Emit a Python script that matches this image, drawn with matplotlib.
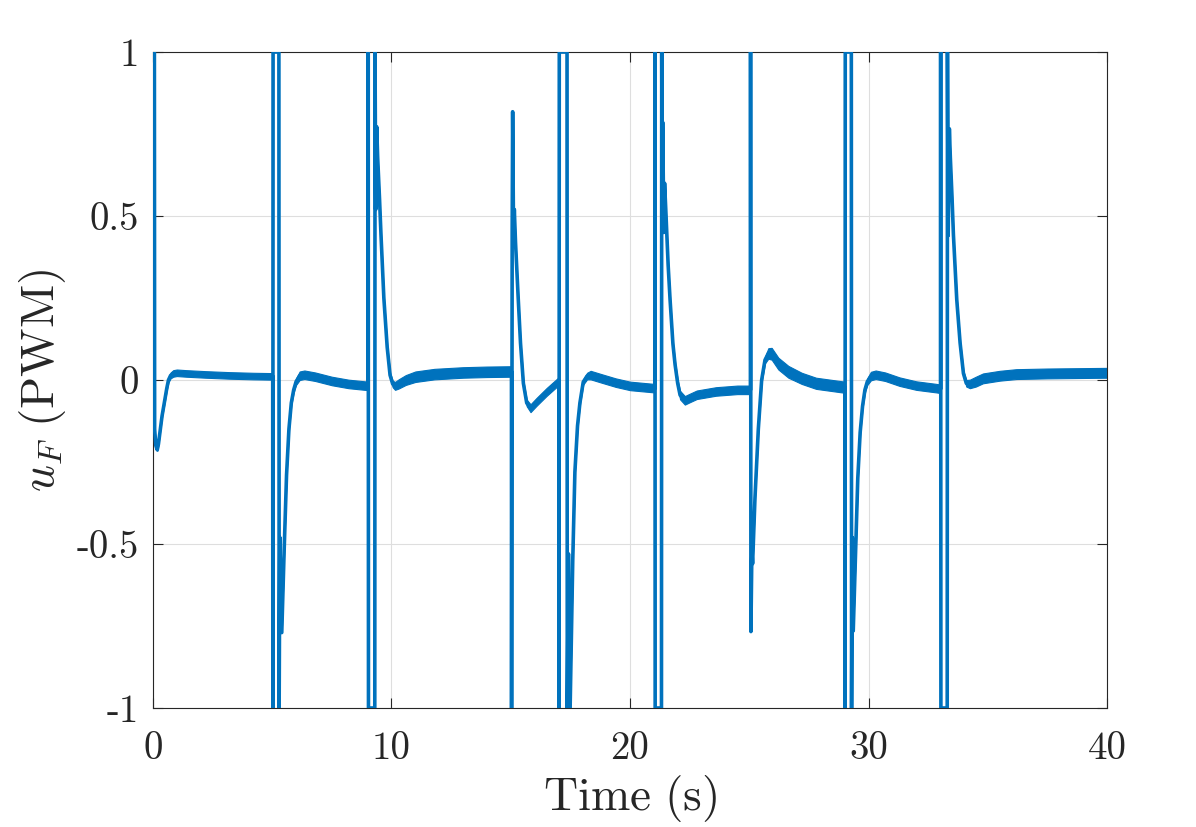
import matplotlib
matplotlib.use('Agg')
import matplotlib.pyplot as plt
import numpy as np

# ---- data ----
time_s = [
    # start
    0.06, 0.07, 0.12, 0.18, 0.23, 0.29, 0.38, 0.50, 0.58, 0.65, 0.74, 0.85, 1.00, 1.40, 2.20, 3.20, 4.20, 5.02,
    # ~5 s
    5.025, 5.035, 5.28, 5.29, 5.32, 5.40, 5.50, 5.60, 5.70, 5.80, 5.90, 6.00, 6.15, 6.35, 6.80, 7.50, 8.20, 9.02,
    # ~9 s
    9.025, 9.035, 9.30, 9.31, 9.34, 9.38, 9.42, 9.50, 9.56, 9.68, 9.82, 9.94, 10.05, 10.15, 10.30, 10.60, 11.00, 11.80, 13.00, 14.00, 15.03,
    # ~15 s
    15.035, 15.06, 15.08, 15.12, 15.15, 15.20, 15.31, 15.41, 15.53, 15.67, 15.83, 16.09, 16.51, 17.02,
    # ~17 s
    17.025, 17.035, 17.36, 17.37, 17.42, 17.49, 17.60, 17.69, 17.80, 17.90, 18.04, 18.20, 18.35, 18.80, 19.40, 20.00, 21.04,
    # ~21 s
    21.045, 21.055, 21.32, 21.33, 21.35, 21.37, 21.42, 21.45, 21.50, 21.60, 21.68, 21.80, 21.89, 22.00, 22.10, 22.30, 22.50, 22.80, 23.60, 24.50, 25.05,
    # ~25 s
    25.055, 25.07, 25.11, 25.14, 25.24, 25.38, 25.52, 25.66, 25.80, 25.94, 26.22, 26.64, 27.20, 27.80, 28.80, 29.01,
    # ~29 s
    29.015, 29.025, 29.28, 29.29, 29.32, 29.36, 29.45, 29.55, 29.65, 29.75, 29.85, 29.95, 30.10, 30.30, 30.70, 31.30, 32.00, 32.86, 33.02,
    # ~33 s
    33.025, 33.035, 33.30, 33.31, 33.34, 33.39, 33.43, 33.50, 33.56, 33.70, 33.84, 33.98, 34.10, 34.25, 34.50, 34.80, 35.50, 36.20, 37.50, 40.00,
]

u_F = [
    1.0, -0.15, -0.20, -0.213, -0.195, -0.16, -0.11, -0.06, -0.025, 0.0, 0.014, 0.02, 0.022, 0.02, 0.017, 0.014, 0.012, 0.011,
    -1.0, 1.0, 1.0, -1.0, -0.48, -0.77, -0.52, -0.29, -0.15, -0.07, -0.03, -0.005, 0.013, 0.016, 0.01, -0.003, -0.012, -0.018,
    1.0, -1.0, -1.0, 1.0, 0.52, 0.772, 0.68, 0.55, 0.443, 0.25, 0.10, 0.015, -0.012, -0.018, -0.012, 0.0, 0.01, 0.018, 0.023, 0.025, 0.026,
    -1.0, 0.45, 0.818, 0.42, 0.52, 0.42, 0.254, 0.112, -0.01, -0.07, -0.086, -0.066, -0.036, -0.003,
    -1.0, 1.0, 1.0, -1.0, -0.53, -1.0, -0.55, -0.28, -0.14, -0.07, -0.006, 0.012, 0.015, 0.005, -0.008, -0.018, -0.025,
    1.0, -1.0, -1.0, 1.0, 0.5, 0.786, 0.45, 0.6, 0.52, 0.35, 0.245, 0.11, 0.047, -0.01, -0.046, -0.062, -0.055, -0.045, -0.035, -0.03, -0.03,
    1.0, -0.767, -0.52, -0.56, -0.36, -0.15, 0.0, 0.061, 0.081, 0.08, 0.05, 0.025, 0.005, -0.01, -0.02, -0.022,
    -1.0, 1.0, 1.0, -1.0, -0.48, -0.765, -0.55, -0.30, -0.16, -0.08, -0.03, -0.005, 0.012, 0.016, 0.01, -0.005, -0.017, -0.025, -0.027,
    1.0, -1.0, -1.0, 1.0, 0.44, 0.766, 0.68, 0.56, 0.443, 0.245, 0.113, 0.02, -0.01, -0.012, -0.005, 0.005, 0.013, 0.018, 0.02, 0.022,
]

# half-amplitude of the high-frequency chatter visible around the trace
chatter = [
    0, 0, 0.003, 0.003, 0.003, 0.003, 0.004, 0.005, 0.006, 0.007, 0.009, 0.010, 0.010, 0.010, 0.010, 0.010, 0.010, 0.010,
    0, 0, 0, 0, 0, 0, 0.003, 0.004, 0.005, 0.006, 0.008, 0.01, 0.013, 0.013, 0.013, 0.013, 0.013, 0.013,
    0, 0, 0, 0, 0, 0, 0.003, 0.003, 0.004, 0.005, 0.006, 0.008, 0.01, 0.012, 0.014, 0.015, 0.016, 0.016, 0.016, 0.016, 0.016,
    0, 0, 0, 0, 0, 0.004, 0.005, 0.006, 0.008, 0.01, 0.012, 0.012, 0.012, 0.012,
    0, 0, 0, 0, 0, 0, 0.003, 0.004, 0.005, 0.006, 0.008, 0.01, 0.013, 0.013, 0.013, 0.013, 0.013,
    0, 0, 0, 0, 0, 0, 0, 0, 0.003, 0.004, 0.005, 0.006, 0.008, 0.01, 0.013, 0.013, 0.013, 0.013, 0.013, 0.013, 0.013,
    0, 0, 0, 0, 0.004, 0.005, 0.007, 0.01, 0.016, 0.018, 0.018, 0.018, 0.017, 0.017, 0.017, 0.017,
    0, 0, 0, 0, 0, 0, 0.003, 0.004, 0.005, 0.006, 0.008, 0.01, 0.013, 0.013, 0.013, 0.013, 0.013, 0.013, 0.013,
    0, 0, 0, 0, 0, 0, 0.003, 0.003, 0.004, 0.005, 0.006, 0.008, 0.01, 0.013, 0.015, 0.015, 0.015, 0.015, 0.015, 0.015,
]

x_ticks = [0, 10, 20, 30, 40]
x_tick_labels = ['0', '10', '20', '30', '40']
y_ticks = [-1, -0.5, 0, 0.5, 1]
y_tick_labels = ['-1', '-0.5', '0', '0.5', '1']

# ---- style ----
plt.rcParams['font.family'] = ['cmr10', 'DejaVu Serif']
plt.rcParams['mathtext.fontset'] = 'cm'
plt.rcParams['axes.unicode_minus'] = False
plt.rcParams['axes.formatter.use_mathtext'] = False

blue = '#0072BD'
dark = '#262626'

fig = plt.figure(figsize=(11.96, 8.27), dpi=100)
ax = fig.add_axes([0.1279, 0.1439, 0.7977, 0.7932])

t = np.array(time_s)
u = np.array(u_F)
a = np.array(chatter)

ax.fill_between(t, u - a, u + a, color=blue, lw=0.8, zorder=2)
ax.plot(t, u, color=blue, lw=2.6, zorder=3, solid_joinstyle='round')

ax.set_xlim(0, 40)
ax.set_ylim(-1, 1)
ax.set_xticks(x_ticks)
ax.set_xticklabels(x_tick_labels)
ax.set_yticks(y_ticks)
ax.set_yticklabels(y_tick_labels)

ax.grid(True, color='#dedede', lw=0.8)
ax.set_axisbelow(True)
ax.tick_params(axis='both', direction='in', length=7, width=0.8, colors=dark,
               top=True, right=True, labelsize=28)
ax.tick_params(axis='x', pad=17)
ax.tick_params(axis='y', pad=10)
for sp in ax.spines.values():
    sp.set_color(dark)
    sp.set_linewidth(0.8)

ax.set_xlabel(r'$\mathrm{Time\ (s)}$', fontsize=34, color=dark, labelpad=4)
ax.set_ylabel(r'$u_F\ \mathrm{(PWM)}$', fontsize=34, color=dark, labelpad=6)

fig.savefig('out.png', dpi=100)
